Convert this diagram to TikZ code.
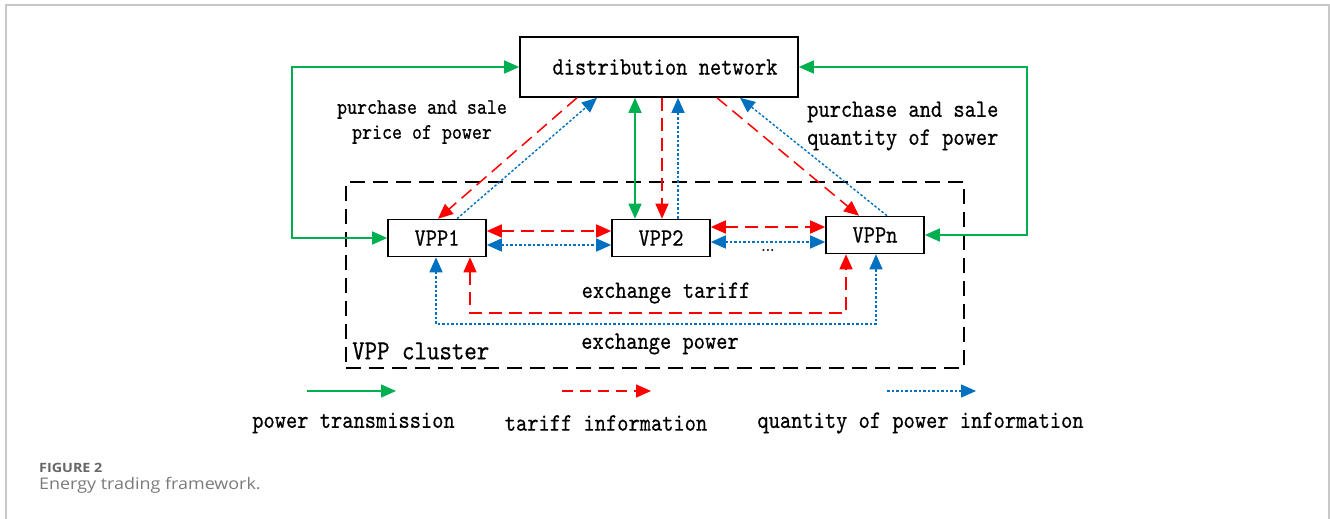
\documentclass[tikz,border=0pt]{standalone}
\usepackage{fontspec}
\usetikzlibrary{arrows.meta,calc}
\newfontfamily\dm{lmmono10-regular}[Extension=.otf,FakeStretch=0.857,FakeBold=0.5]
\newfontfamily\capfont{Open Sans}[FakeStretch=1.12]
\definecolor{cgreen}{HTML}{00B050}
\definecolor{cred}{HTML}{FF0000}
\definecolor{cblue}{HTML}{0070C0}
\definecolor{frameg}{HTML}{C8C8C8}
\definecolor{capgray}{HTML}{666666}
\definecolor{capgray2}{HTML}{7A7A7A}
\begin{document}
\begin{tikzpicture}[x=1pt,y=-1pt,
  box/.style={draw=black, line width=1.6pt, inner sep=0pt, font=\dm\fontsize{25}{30}\selectfont},
  vpp/.style={box, minimum width=98pt, minimum height=37pt},
  txt/.style={inner sep=0pt, font=\dm\fontsize{25}{28}\selectfont},
  pw/.style={draw=cgreen, line width=1.5pt},
  tf/.style={draw=cred, line width=1.5pt, dash pattern=on 13pt off 7pt},
  qt/.style={draw=cblue, line width=1.4pt, dash pattern=on 2.5pt off 2pt},
  onearr/.style={-{Triangle[length=15pt,width=13pt]}},
  twoarr/.style={{Triangle[length=15pt,width=13pt]}-{Triangle[length=15pt,width=13pt]}}
]
\useasboundingbox (0,0) rectangle (1330,519);
\draw[frameg, line width=1.2pt] (6,519) -- (6,5) -- (1329,5) -- (1329,519);

% cluster
\node[draw=black, line width=1.6pt, dash pattern=on 15pt off 8pt, minimum width=618pt, minimum height=186pt, inner sep=0pt] (cl) at (655,275) {};

% nodes
\node[box, minimum width=278pt, minimum height=60pt] (dn) at (659,67) {\hspace*{12pt}distribution network};
\node[vpp] (v1) at (437,238) {VPP1};
\node[vpp] (v2) at (661,238) {VPP2};
\node[vpp] (vn) at (875,235) {VPPn};

% green outer loops
\coordinate (gl) at (292,67);
\coordinate (gr) at (1027,67);
\draw[pw,twoarr] (dn.west) -- (gl) |- (v1.west);
\draw[pw,twoarr] (dn.east) -- (gr) |- (vn.east);

% VPP2 verticals
\draw[pw,twoarr] ([xshift=-26pt]v2.north |- dn.south) -- ([xshift=-26pt]v2.north);
\draw[tf,onearr] ([xshift=1pt]v2.north |- dn.south) -- ([xshift=1pt]v2.north);
\draw[qt,onearr] ([xshift=17pt]v2.north) -- ([xshift=17pt]v2.north |- dn.south);

% diagonals
\draw[tf,onearr] ([xshift=-82pt]dn.south) -- ([xshift=1pt]v1.north);
\draw[qt,onearr] ([xshift=20pt]v1.north) -- ([xshift=-62pt]dn.south);
\draw[tf,onearr] ([xshift=58pt]dn.south) -- ([xshift=-16pt]vn.north);
\draw[qt,onearr] ([xshift=12pt]vn.north) -- ([xshift=81pt]dn.south);

% horizontals
\draw[tf,twoarr] ([yshift=7pt]v1.east) -- ([yshift=7pt]v2.west);
\draw[qt,twoarr] ([yshift=-7pt]v1.east) -- ([yshift=-7pt]v2.west);
\draw[tf,twoarr] ([yshift=11pt]v2.east) -- ([yshift=8pt]vn.west);
\draw[qt,twoarr] ([yshift=-4pt]v2.east) -- ([yshift=-7pt]vn.west);
\node[inner sep=0pt, font=\bfseries\fontsize{14}{14}\selectfont] (dots) at (768,250) {...};

% bottom exchange
\coordinate (rbot) at (660,313);
\coordinate (bbot) at (660,324);
\draw[tf,twoarr] ([xshift=33pt]v1.south) |- (rbot) -| ([xshift=-29pt]vn.south);
\draw[qt,twoarr] ([xshift=-1pt]v1.south) |- (bbot) -| ([xshift=1pt]vn.south);

% labels
\node[txt, font=\dm\fontsize{22.2}{25}\selectfont, align=center] (lp) at (422,122) {purchase and sale\\price of power};
\node[txt, align=left, anchor=west] (lq) at (807,126) {purchase and sale\\quantity of power};
\node[txt] (et) at (666,293) {exchange tariff};
\node[txt] (ep) at (660,344) {exchange power};
\node[txt, font=\dm\fontsize{27.7}{30}\selectfont, anchor=west] (cln) at (352,351) {VPP cluster};

% legend
\coordinate (g1) at (307,391); \coordinate (g2) at (396,391);
\coordinate (r1) at (562,391); \coordinate (r2) at (651,391);
\coordinate (b1) at (887,391); \coordinate (b2) at (976,391);
\draw[pw,onearr] (g1) -- (g2);
\draw[tf,onearr,dash pattern=on 11pt off 7pt] (r1) -- (r2);
\draw[qt,onearr] (b1) -- (b2);
\node[txt] (lg) at (353.5,423) {power transmission};
\node[txt] (lr) at (606,423) {tariff information};
\node[txt] (lb) at (920.5,423) {quantity of power information};

% caption
\node[anchor=base west, inner sep=0pt, font=\capfont\bfseries\fontsize{12.8}{13}\selectfont, text=capgray] (fig) at (39,472) {FIGURE 2};
\node[anchor=base west, inner sep=0pt, font=\capfont\fontsize{16}{17}\selectfont, text=capgray2] (cap) at (39,489) {Energy trading framework.};
\end{tikzpicture}
\end{document}
